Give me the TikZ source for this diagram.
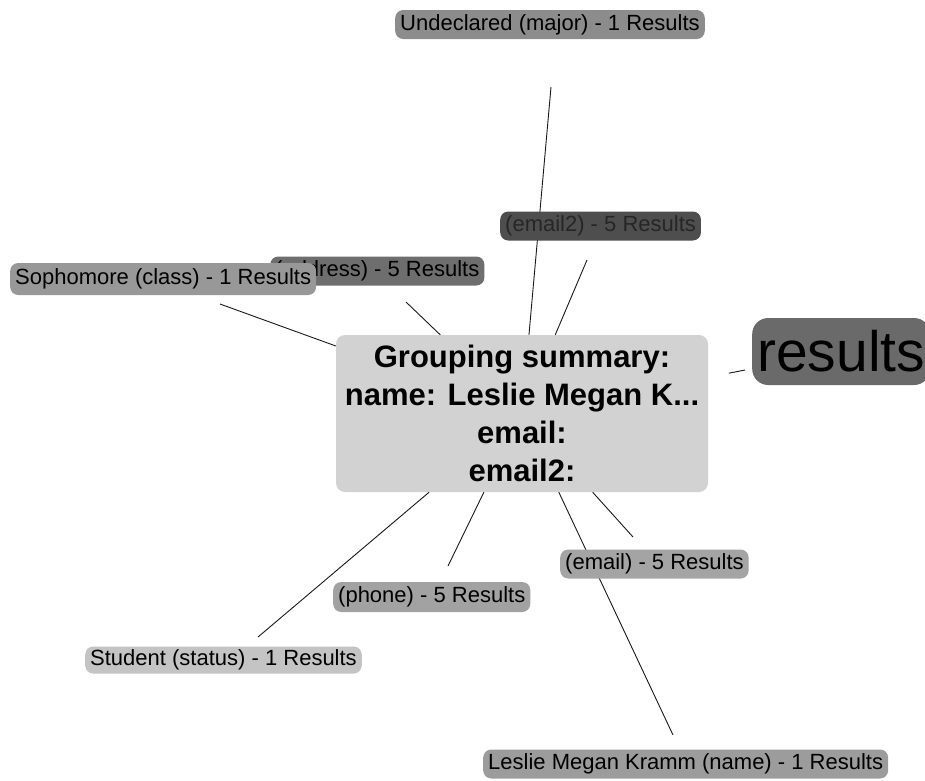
\documentclass[tikz,border=0pt]{standalone}
\usepackage{fontspec}
\setmainfont{Liberation Sans}
\begin{document}
\begin{tikzpicture}[x=1pt,y=-1pt,
  lab/.style={draw=none, rounded corners=8pt, anchor=west, minimum height=29pt,
    inner xsep=5pt, inner ysep=0pt, text=black, font=\fontsize{22}{26}\selectfont},
  conn/.style={draw=black!90, line width=0.9pt},
  ctrbox/.style={fill=ctrgray, rounded corners=9pt, minimum width=372pt, minimum height=157pt,
    align=center, inner sep=0pt, font=\fontsize{31}{38}\selectfont\bfseries}
]
\definecolor{ctrgray}{HTML}{D2D2D2}
\definecolor{gU}{HTML}{8C8C8C}
\definecolor{gE2}{HTML}{4E4E4E}
\definecolor{gA}{HTML}{6E6E6E}
\definecolor{gS}{HTML}{989898}
\definecolor{gR}{HTML}{6A6A6A}
\definecolor{gE}{HTML}{A4A4A4}
\definecolor{gP}{HTML}{A2A2A2}
\definecolor{gSt}{HTML}{C4C4C4}
\definecolor{gL}{HTML}{9C9C9C}
\useasboundingbox (0,0) rectangle (925,780);

\node[ctrbox] (ctr) at (522,413.5) {Grouping summary:\\name: Leslie Megan K...\\email:\\email2:};

\coordinate (eU) at (551,87);
\coordinate (eE2) at (587,260);
\coordinate (eA) at (406,302);
\coordinate (eS) at (220,304);
\coordinate (eR) at (745,370);
\coordinate (eSt) at (258,637);
\coordinate (eP) at (448,566);
\coordinate (eL) at (673,735);
\coordinate (eE) at (633,537);

\draw[conn] (ctr) -- (eU);
\draw[conn] (ctr) -- (eE2);
\draw[conn] (ctr) -- (eA);
\draw[conn] (ctr) -- (eS);
\draw[conn, shorten <=21pt] (ctr) -- (eR);
\draw[conn] (ctr) -- (eSt);
\draw[conn] (ctr) -- (eP);
\draw[conn] (ctr) -- (eL);
\draw[conn] (ctr) -- (eE);

\node[lab, fill=gU] (nU) at (395,24.5) {Undeclared (major) - 1 Results};
\node[lab, fill=gE2, text=black!85] (nE2) at (500,226) {(email2) - 5 Results};
\node[lab, fill=gA] (nA) at (270,271) {(address) - 5 Results};
\node[lab, fill=gS, minimum height=32pt] (nS) at (10,279) {Sophomore (class) - 1 Results};
\node[lab, fill=gE] (nE) at (560,564) {(email) - 5 Results};
\node[lab, fill=gP, minimum height=30pt] (nP) at (333,597) {(phone) - 5 Results};
\node[lab, fill=gSt, minimum height=27pt] (nSt) at (85,660) {Student (status) - 1 Results};
\node[lab, fill=gL] (nL) at (483,764) {Leslie Megan Kramm (name) - 1 Results};
\node[lab, fill=gR, rounded corners=16pt, minimum height=67pt, inner xsep=5pt,
  font=\fontsize{57}{60}\selectfont] (nR) at (752,351.5) {results};
\end{tikzpicture}
\end{document}
